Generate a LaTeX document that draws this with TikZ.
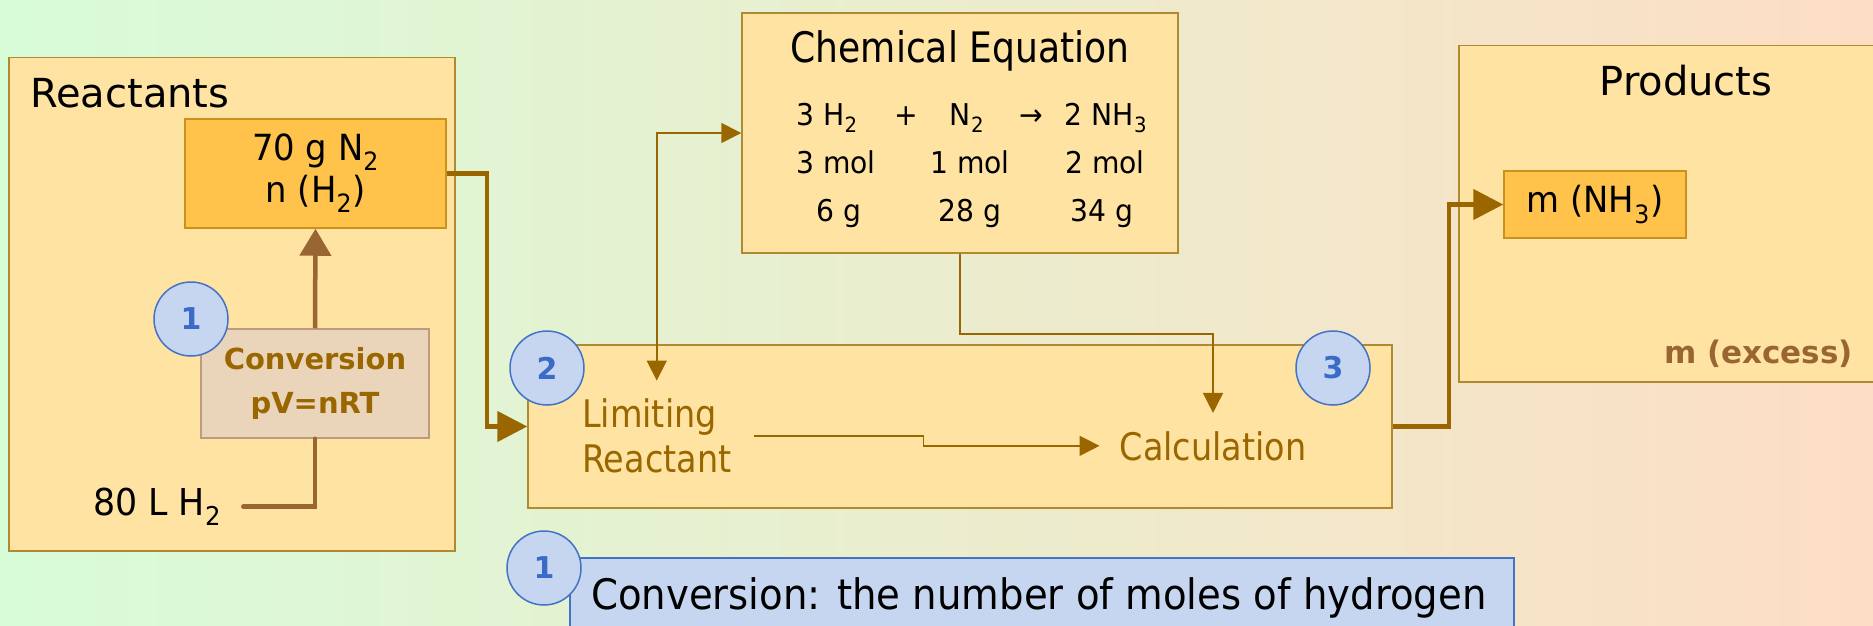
\documentclass[tikz,border=0pt]{standalone}
\usepackage{fontspec}
\setmainfont{DejaVu Sans}
\newfontfamily\cfa[FakeStretch=0.86]{DejaVu Sans}
\newfontfamily\cfb[FakeStretch=0.88]{DejaVu Sans}
\newfontfamily\cfc[FakeStretch=0.92]{DejaVu Sans}
\newfontfamily\cfd[FakeStretch=0.94]{DejaVu Sans}
\usetikzlibrary{arrows.meta}
\definecolor{bgL}{HTML}{D8FCD8}
\definecolor{bgM}{HTML}{EEEDCB}
\definecolor{bgR}{HTML}{FDDEC4}
\definecolor{boxfill}{HTML}{FFE3A3}
\definecolor{boxline}{HTML}{B08A30}
\definecolor{innerfill}{HTML}{FFC24A}
\definecolor{innerline}{HTML}{C8921E}
\definecolor{convfill}{HTML}{EAD4BA}
\definecolor{convline}{HTML}{BC9C7C}
\definecolor{circfill}{HTML}{C6D6F0}
\definecolor{circline}{HTML}{4472C4}
\definecolor{circtext}{HTML}{3A6BC8}
\definecolor{gold}{HTML}{996600}
\definecolor{brownc}{HTML}{996633}
\newcommand{\fsz}[2]{\fontsize{#1}{#2}\selectfont}
\tikzset{
  panel/.style={draw=boxline, line width=1.5pt, fill=boxfill, inner sep=0pt},
  innerbox/.style={draw=innerline, line width=1.5pt, fill=innerfill, inner sep=0pt},
  convbox/.style={draw=convline, line width=1.5pt, fill=convfill, inner sep=0pt},
  notebox/.style={draw=circline, line width=1.5pt, fill=circfill, inner sep=0pt},
  numcirc/.style={circle, draw=circline, line width=1.5pt, fill=circfill, minimum size=74pt, inner sep=0pt, text=circtext, font=\bfseries\fsz{30}{36}},
  lbl/.style={inner sep=0pt},
  thickarrow/.style={draw=gold, line width=4.5pt, -{Triangle[length=30pt,width=30pt]}},
  brownarrow/.style={draw=brownc, line width=4.5pt, -{Triangle[length=27pt,width=31pt]}},
  brownline/.style={draw=brownc, line width=4.5pt, line cap=round},
  thinarrow/.style={draw=gold, line width=1.6pt, -{Triangle[length=20pt,width=20pt]}},
  biarrow/.style={draw=gold, line width=1.6pt, {Triangle[length=20pt,width=20pt]}-{Triangle[length=20pt,width=20pt]}},
  eq/.style={inner sep=0pt, anchor=base, font=\cfd\fsz{30}{36}}
}
\begin{document}
\begin{tikzpicture}[x=1pt,y=-1pt]
\useasboundingbox (0,0) rectangle (1873,626);
\clip (0,0) rectangle (1873,626);
\shade[left color=bgL, middle color=bgM, right color=bgR] (0,0) rectangle (1873,626);

% Reactants panel
\node[panel, anchor=north west, minimum width=446pt, minimum height=493pt] (reac) at (8,57) {};
\node[lbl, anchor=base west, font=\fsz{40}{48}] (reaclbl) at (30,107) {Reactants};
\node[innerbox, minimum width=261pt, minimum height=109pt, align=center, font=\cfd\fsz{36}{42}] (n2) at (315.5,173.5) {70 g N\textsubscript{2}\\n (H\textsubscript{2})};
\node[convbox, minimum width=228pt, minimum height=109pt, align=center, text=gold, font=\bfseries\fsz{29}{44}] (conv) at (315,383.5) {Conversion\\pV=nRT};
\node[lbl, anchor=base west, font=\cfd\fsz{37}{42}] (h2) at (93,515) {80 L H\textsubscript{2}};
\draw[brownline] ([xshift=22pt]h2.east) -| (conv.south);
\draw[brownarrow] (conv.north) -- (n2.south);
\node[numcirc] (c1) at (191,319) {1};

% Chemical equation panel
\node[panel, minimum width=436pt, minimum height=240pt] (chem) at (960,133) {};
\node[lbl, anchor=base, font=\cfa\fsz{42}{48}] (chemt) at (960,63) {Chemical Equation};
\node[eq] (e11) at (827,125) {3 H\textsubscript{2}};
\node[eq] (e12) at (906,125) {+};
\node[eq] (e13) at (967,125) {N\textsubscript{2}};
\node[eq] (e14) at (1031,125) {→};
\node[eq] (e15) at (1106,125) {2 NH\textsubscript{3}};
\node[eq] (e21) at (836,173) {3 mol};
\node[eq] (e22) at (970,173) {1 mol};
\node[eq] (e23) at (1105,173) {2 mol};
\node[eq] (e31) at (839,221) {6 g};
\node[eq] (e32) at (970,221) {28 g};
\node[eq] (e33) at (1102,221) {34 g};

% Products panel
\node[panel, anchor=north west, minimum width=440pt, minimum height=336pt] (prod) at (1458,45) {};
\node[lbl, anchor=base, font=\fsz{40}{48}] (prodlbl) at (1686,95) {Products};
\node[innerbox, minimum width=182pt, minimum height=67pt, font=\cfd\fsz{36}{40}] (nh3) at (1595,204.5) {m (NH\textsubscript{3})};
\node[lbl, anchor=base east, text=brownc, font=\bfseries\fsz{31}{37}] (exc) at (1853,363) {m (excess)};

% Limiting / calculation panel
\node[panel, minimum width=864pt, minimum height=163pt] (lim) at (960,426.5) {};
\node[lbl, anchor=west, align=left, text=gold, font=\cfb\fsz{38}{45}] (lt) at (582,436) {Limiting\\Reactant};
\node[lbl, anchor=base, text=gold, font=\cfb\fsz{38}{44}] (calc) at (1213,460) {Calculation};

% connectors
\draw[thickarrow] (n2.east) -- ++(40,0) |- (lim.west);
\draw[thickarrow] (lim.east) -- ++(56,0) |- (nh3.west);
\draw[biarrow] (chem.west) -| ([yshift=18pt]lt.north);
\draw[thinarrow] (chem.south) -- ++(0,80) -| ([yshift=18pt]calc.north);
\draw[thinarrow] ([xshift=22pt]lt.east) -- ++(170,0) |- ([xshift=-20pt]calc.west);

\node[numcirc] (c2) at (547,368) {2};
\node[numcirc] (c3) at (1333,368) {3};

% note
\node[notebox, anchor=north west, minimum width=944pt, minimum height=100pt] (note) at (569,557) {};
\node[lbl, anchor=base west, font=\cfc\fsz{42}{48}] (notet) at (591,609) {Conversion: the number of moles of hydrogen};
\node[numcirc] (c4) at (544,568) {1};
\end{tikzpicture}
\end{document}
